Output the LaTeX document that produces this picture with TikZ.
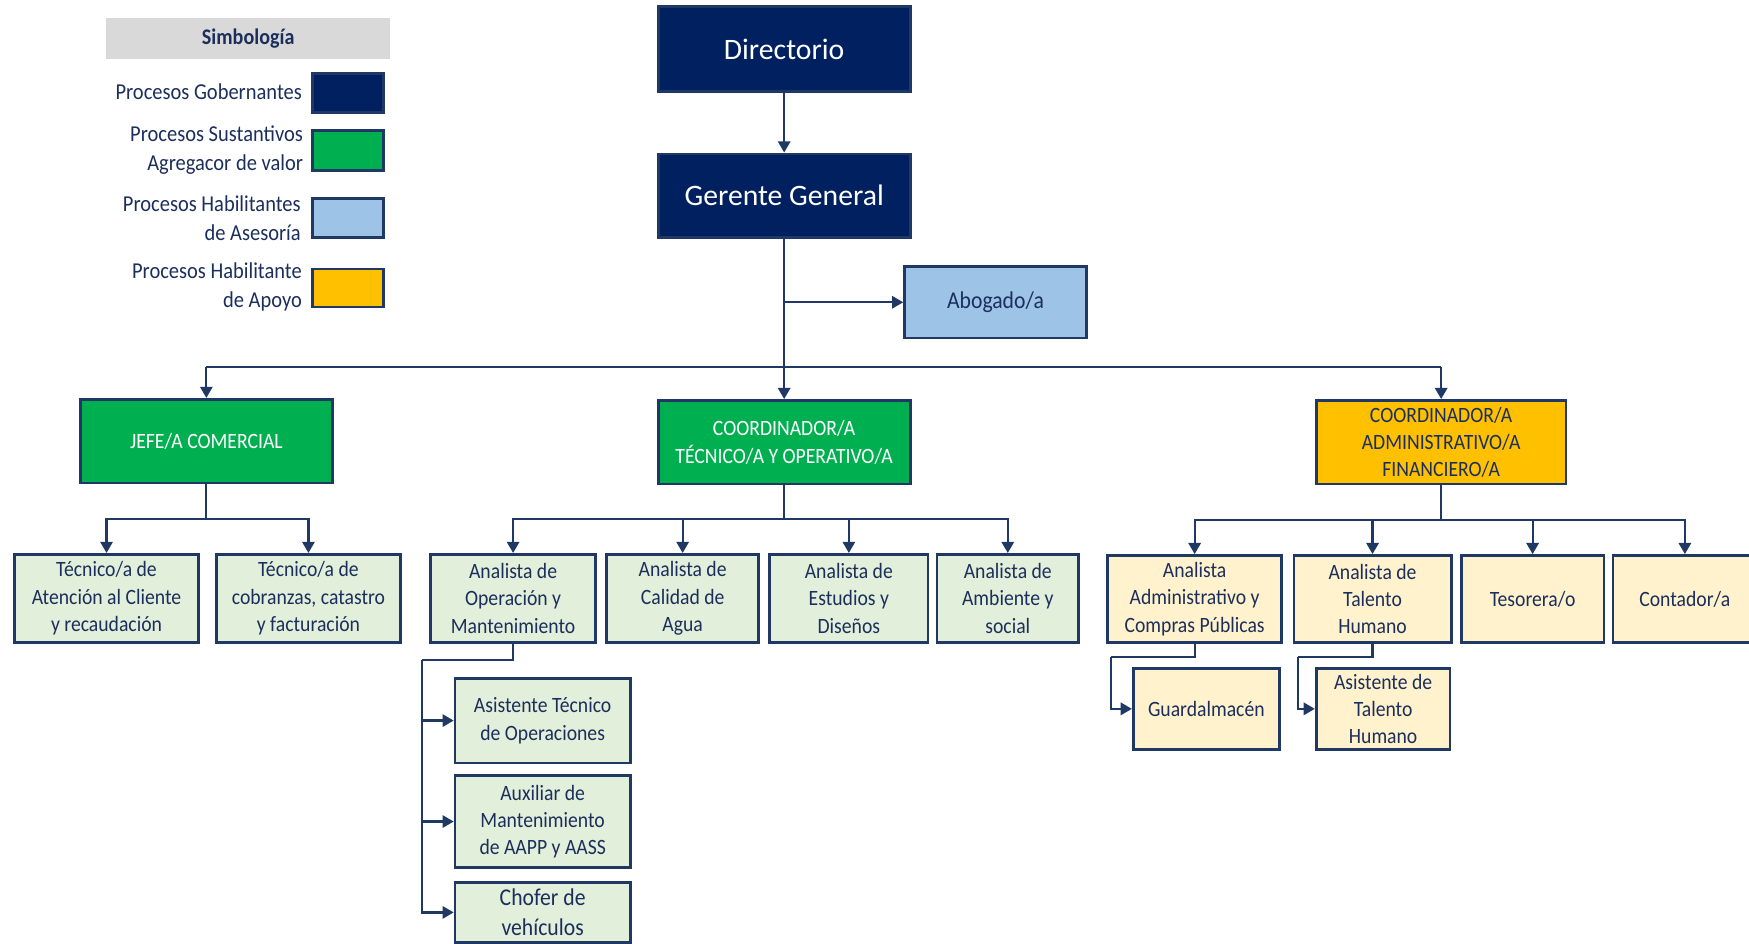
\documentclass[tikz,border=0pt]{standalone}
\usepackage{fontspec}
\setmainfont{Carlito}
\newfontfamily\condfont{Carlito}[FakeStretch=0.9]
\usetikzlibrary{arrows.meta}
\definecolor{navyfill}{HTML}{002060}
\definecolor{navyline}{HTML}{1F3864}
\definecolor{txtnavy}{HTML}{1C2F5C}
\definecolor{greenfill}{HTML}{00B050}
\definecolor{bluefill}{HTML}{9DC3E6}
\definecolor{goldfill}{HTML}{FFC000}
\definecolor{lgreen}{HTML}{E2EFDA}
\definecolor{lyellow}{HTML}{FFF2CC}
\definecolor{legendgray}{HTML}{D9D9D9}
\definecolor{conn}{HTML}{1F3864}
\tikzset{
  orgbox/.style={draw=navyline, line width=1.25pt, inner sep=0pt, align=center, text=txtnavy,
    font=\condfont\fontsize{9.8}{12.25}\selectfont},
  govbox/.style={orgbox, fill=navyfill, text=white, font=\fontsize{13.3}{16}\selectfont},
  subbox/.style={orgbox, fill=greenfill, text=white},
  advbox/.style={orgbox, fill=bluefill, font=\condfont\fontsize{10.8}{12.5}\selectfont},
  supbox/.style={orgbox, fill=goldfill},
  gchild/.style={orgbox, fill=lgreen},
  ychild/.style={orgbox, fill=lyellow},
  swatch/.style={draw=navyline, line width=1.1pt, minimum width=32pt, inner sep=0pt},
  leglabel/.style={anchor=east, align=right, text=txtnavy, inner sep=0pt, font=\condfont\fontsize{10.2}{13}\selectfont},
  conline/.style={draw=conn, line width=1pt},
  arr/.style={conline, -{Triangle[width=5.5pt,length=5pt]}},
}
\begin{document}
\begin{tikzpicture}[x=0.5pt,y=-0.5pt]
\useasboundingbox (0,0) rectangle (1568,846);
% legend
\node[fill=legendgray, minimum width=127.5pt, minimum height=18.5pt, inner sep=0pt, text=txtnavy,
  font=\condfont\bfseries\fontsize{10}{11}\selectfont] (leghead) at (222.5,34.5) {Simbología};
\node[swatch, fill=navyfill, minimum height=17.5pt] (sw1) at (312,83.5) {};
\node[swatch, fill=greenfill, minimum height=18pt] (sw2) at (312,135) {};
\node[swatch, fill=bluefill, minimum height=17.5pt] (sw3) at (312,195.5) {};
\node[swatch, fill=goldfill, minimum height=17pt] (sw4) at (312,258) {};
\node[leglabel] (lab1) at (271,82) {Procesos Gobernantes};
\node[leglabel] (lab2) at (272,135) {Procesos Sustantivos\\Agregacor de valor};
\node[leglabel] (lab3) at (270,195.5) {Procesos Habilitantes\\de Asesoría};
\node[leglabel] (lab4) at (271,257) {Procesos Habilitante\\de Apoyo};
% top levels
\node[govbox, minimum width=113pt, minimum height=38pt] (dir) at (703,44) {Directorio};
\node[govbox, minimum width=113pt, minimum height=37.5pt] (ger) at (703,175.5) {Gerente General};
\node[advbox, minimum width=81.5pt, minimum height=32pt] (abo) at (892.5,271) {Abogado/a};
\node[subbox, minimum width=113pt, minimum height=37.5pt] (jefe) at (185,395.5) {JEFE/A COMERCIAL};
\node[subbox, minimum width=113pt, minimum height=37.5pt] (ctec) at (703,396.5) {COORDINADOR/A\\TÉCNICO/A Y OPERATIVO/A};
\node[supbox, minimum width=112pt, minimum height=37.5pt] (cadm) at (1292,396.5) {COORDINADOR/A\\ADMINISTRATIVO/A\\FINANCIERO/A};
% comercial children
\node[gchild, minimum width=82.5pt, minimum height=39.5pt] (t1) at (95.5,536.5) {Técnico/a de\\Atención al Cliente\\y recaudación};
\node[gchild, minimum width=82.5pt, minimum height=39.5pt] (t2) at (276.5,536.5) {Técnico/a de\\cobranzas, catastro\\y facturación};
% tecnico children
\node[gchild, minimum width=74pt, minimum height=39.5pt] (a1) at (460,536.5) {Analista de\\Operación y\\Mantenimiento};
\node[gchild, minimum width=68pt, minimum height=39.5pt] (a2) at (612,536.5) {Analista de\\Calidad de\\Agua};
\node[gchild, minimum width=71pt, minimum height=39.5pt] (a3) at (761,536.5) {Analista de\\Estudios y\\Diseños};
\node[gchild, minimum width=63.5pt, minimum height=39.5pt] (a4) at (903.5,536.5) {Analista de\\Ambiente y\\social};
\node[gchild, minimum width=78.5pt, minimum height=38pt] (s1) at (486.5,646) {Asistente Técnico\\de Operaciones};
\node[gchild, minimum width=78.5pt, minimum height=41.5pt] (s2) at (486.5,736.5) {Auxiliar de\\Mantenimiento\\de AAPP y AASS};
\node[gchild, minimum width=78.5pt, minimum height=27pt, font=\condfont\fontsize{10.8}{13.5}\selectfont] (s3) at (486.5,818) {Chofer de\\vehículos};
% administrativo children
\node[ychild, minimum width=78pt, minimum height=39pt] (b1) at (1071,537) {Analista\\Administrativo y\\Compras Públicas};
\node[ychild, minimum width=70.5pt, minimum height=39pt] (b2) at (1230.5,537) {Analista de\\Talento\\Humano};
\node[ychild, minimum width=64pt, minimum height=39pt] (b3) at (1374,537) {Tesorera/o};
\node[ychild, minimum width=64.5pt, minimum height=39pt] (b4) at (1510.5,537) {Contador/a};
\node[ychild, minimum width=65.5pt, minimum height=36.5pt] (g1) at (1081.5,635.5) {Guardalmacén};
\node[ychild, minimum width=60pt, minimum height=36.5pt] (g2) at (1240,635.5) {Asistente de\\Talento\\Humano};
% junction coordinates
\coordinate (jab) at (703,271);
\coordinate (busL) at (185,329);
\coordinate (busR) at (1292,329);
\coordinate (jb) at (185,465);
\coordinate (cb) at (703,465);
\coordinate (db) at (1292,466);
\coordinate (ob) at (378,592);
\coordinate (gb) at (996,589);
\coordinate (hb) at (1164,589);
% connectors
\draw[arr] (dir.south) -- (ger.north);
\draw[arr] (ger.south) -- (ctec.north);
\draw[arr] (jab) -- (abo.west);
\draw[conline] (busL) -- (busR);
\draw[arr] (busL) -- (jefe.north);
\draw[arr] (busR) -- (cadm.north);
\draw[conline] (jefe.south) -- (jb);
\draw[arr] (jb) -| (t1.north);
\draw[arr] (jb) -| (t2.north);
\draw[conline] (ctec.south) -- (cb);
\draw[arr] (cb) -| (a1.north);
\draw[arr] (cb) -| (a2.north);
\draw[arr] (cb) -| (a3.north);
\draw[arr] (cb) -| (a4.north);
\draw[conline] (a1.south) |- (ob);
\draw[arr] (ob) |- (s1.west);
\draw[arr] (ob) |- (s2.west);
\draw[arr] (ob) |- (s3.west);
\draw[conline] (cadm.south) -- (db);
\draw[arr] (db) -| (b1.north);
\draw[arr] (db) -| (b2.north);
\draw[arr] (db) -| (b3.north);
\draw[arr] (db) -| (b4.north);
\draw[conline] (b1.south) |- (gb);
\draw[arr] (gb) |- (g1.west);
\draw[conline] (b2.south) |- (hb);
\draw[arr] (hb) |- (g2.west);
\end{tikzpicture}
\end{document}
